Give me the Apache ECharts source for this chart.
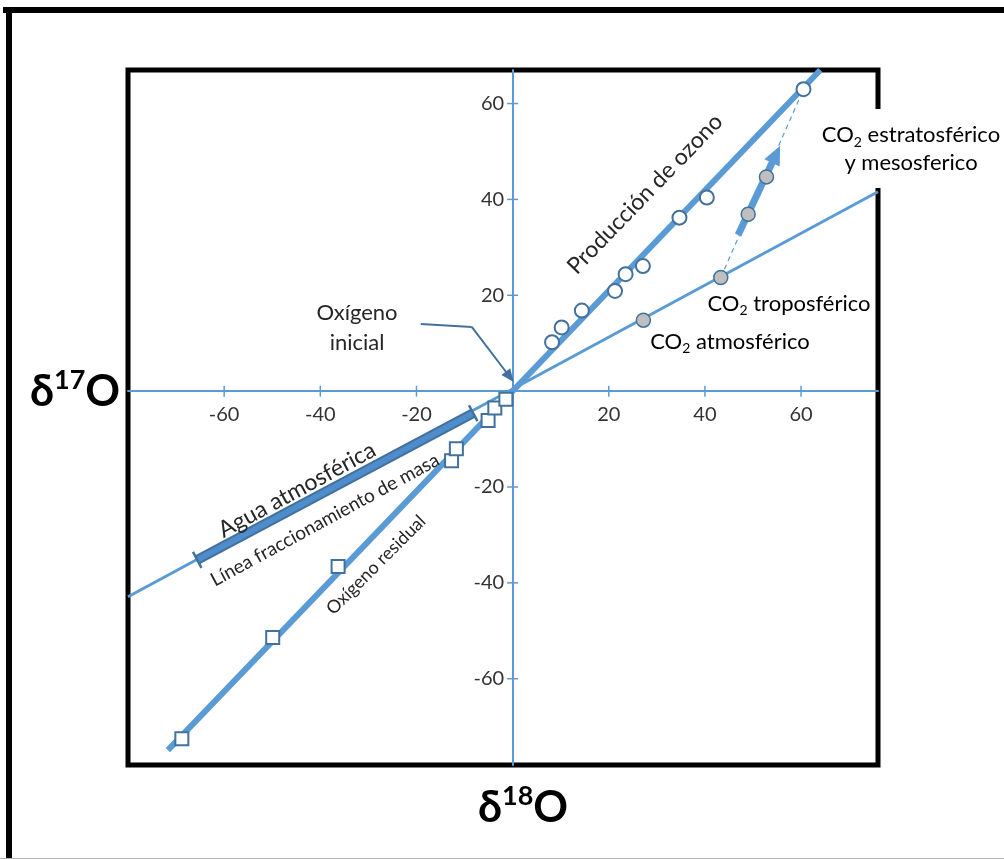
<!DOCTYPE html>
<html>
<head>
<meta charset="utf-8">
<script src="https://cdn.jsdelivr.net/npm/echarts@6/dist/echarts.min.js"></script>
<style>
  html, body { margin: 0; padding: 0; background: #fff; }
  #chart { width: 1004px; height: 859px; }
</style>
</head>
<body>
<div id="chart"></div>
<script>
// values (δ18O, δ17O)
const tickValues = [-60, -40, -20, 20, 40, 60]
const ozoneLine = [[0, 0], [64, 67]]
const ozonePoints = [[8.2, 10.2], [10.2, 13.3], [14.4, 16.8], [21.3, 20.9], [23.5, 24.4], [27.1, 26.1], [34.7, 36.2], [40.4, 40.4], [60.5, 63.0]]
const massLine = [[-80, -42.9], [76, 41.6]]
const waterBand = [[-65.6, -35.2], [-8.2, -4.6]]
const residualLine = [[-71.7, -74.9], [0, 0]]
const residualPoints = [[-68.8, -72.5], [-49.9, -51.4], [-36.3, -36.6], [-12.7, -14.5], [-11.7, -12.0], [-5.1, -6.1], [-3.7, -3.5], [-1.4, -1.7]]
const co2Points = [[27.2, 14.8], [43.3, 23.7], [49.0, 36.9], [52.8, 44.7]]
const co2Dashed = [[43.3, 23.7], [60.5, 63.0]]
const co2Arrow = [[46.9, 32.6], [54.8, 49.4]]
const initialArrow = [[-19.1, 14.0], [-8.5, 13.4], [-0.6, 3.0]]

const blue = "#5b9bd5"
const dark = "#41719c"
const txt = "#262626"
const font = "Lato, 'Open Sans', sans-serif"

const chart = echarts.init(document.getElementById("chart"))

const co2Rich = {
  n: { fontSize: 22, lineHeight: 26, fontFamily: font, color: txt },
  s: { fontSize: 14, lineHeight: 11, verticalAlign: "bottom", fontFamily: font, color: txt }
}
const deltaRich = {
  n: { fontSize: 43, lineHeight: 50, fontWeight: "bold", fontFamily: font, color: "#000" },
  p: { fontSize: 27, lineHeight: 34, verticalAlign: "top", fontWeight: "bold", fontFamily: font, color: "#000" }
}
const deg = (d) => (d * Math.PI) / 180

// ticks crossing the axes, with their labels, placed on the scales
const xTicks = tickValues.map((v) => [v, 0])
const yTicks = tickValues.map((v) => [0, v])
const tickLabel = { show: true, fontSize: 20, fontFamily: font, color: "#333" }

const options = {
  animation: false,
  backgroundColor: "#fff",
  grid: {
    left: 128,
    right: 126,
    top: 70,
    bottom: 94,
    show: true,
    borderColor: "#000",
    borderWidth: 5,
    backgroundColor: "#fff"
  },
  xAxis: {
    type: "value",
    min: -80,
    max: 76,
    splitLine: { show: false },
    axisLine: { onZero: true, lineStyle: { color: blue, width: 2 } },
    axisTick: { show: false },
    axisLabel: { show: false }
  },
  yAxis: {
    type: "value",
    min: -78,
    max: 67,
    splitLine: { show: false },
    axisLine: { onZero: true, lineStyle: { color: blue, width: 2 } },
    axisTick: { show: false },
    axisLabel: { show: false }
  },
  series: [
    {
      type: "scatter",
      data: xTicks,
      symbol: "rect",
      symbolSize: [1.5, 11],
      itemStyle: { color: blue, opacity: 1 },
      label: { ...tickLabel, position: "bottom", distance: 8, formatter: (p) => p.value[0] },
      silent: true,
      z: 2
    },
    {
      type: "scatter",
      data: yTicks,
      symbol: "rect",
      symbolSize: [11, 1.5],
      itemStyle: { color: blue, opacity: 1 },
      label: { ...tickLabel, position: "left", distance: 3, formatter: (p) => p.value[1] },
      silent: true,
      z: 2
    },
    {
      type: "line",
      data: massLine,
      symbol: "none",
      lineStyle: { color: blue, width: 3 },
      z: 3
    },
    {
      type: "line",
      data: waterBand,
      symbol: "none",
      lineStyle: { color: dark, width: 10, cap: "butt" },
      z: 4
    },
    {
      type: "line",
      data: waterBand,
      symbol: "none",
      lineStyle: { color: "#4f8ccb", width: 6, cap: "butt" },
      z: 4
    },
    {
      type: "scatter",
      data: waterBand,
      symbol: "rect",
      symbolSize: [2.5, 18],
      symbolRotate: 28,
      itemStyle: { color: dark, opacity: 1 },
      z: 5
    },
    {
      type: "line",
      data: residualLine,
      symbol: "none",
      lineStyle: { color: blue, width: 6 },
      z: 3
    },
    {
      type: "line",
      data: ozoneLine,
      symbol: "none",
      lineStyle: { color: blue, width: 6 },
      z: 3
    },
    {
      type: "line",
      data: co2Dashed,
      symbol: "none",
      lineStyle: { color: blue, width: 1.2, type: [5, 4] },
      z: 3
    },
    {
      type: "line",
      data: [],
      markLine: {
        silent: true,
        symbol: ["none", "triangle"],
        symbolSize: [17, 19],
        label: { show: false },
        lineStyle: { color: blue, width: 7, type: "solid" },
        data: [[{ coord: co2Arrow[0] }, { coord: co2Arrow[1] }]]
      },
      z: 4
    },
    {
      type: "line",
      data: initialArrow.slice(0, 2),
      symbol: "none",
      lineStyle: { color: dark, width: 2 },
      markLine: {
        silent: true,
        symbol: ["none", "triangle"],
        symbolSize: [11, 13],
        label: { show: false },
        lineStyle: { color: dark, width: 2, type: "solid" },
        data: [[{ coord: initialArrow[1] }, { coord: initialArrow[2] }]]
      },
      z: 4
    },
    {
      type: "scatter",
      data: ozonePoints,
      symbol: "circle",
      symbolSize: 14,
      itemStyle: { color: "#fff", borderColor: dark, borderWidth: 2, opacity: 1 },
      z: 6
    },
    {
      type: "scatter",
      data: co2Points,
      symbol: "circle",
      symbolSize: 14,
      itemStyle: { color: "#bfbfbf", borderColor: dark, borderWidth: 1.5, opacity: 1 },
      z: 6
    },
    {
      type: "scatter",
      data: residualPoints,
      symbol: "rect",
      symbolSize: 13,
      itemStyle: { color: "#fff", borderColor: dark, borderWidth: 2, opacity: 1 },
      z: 6
    }
  ],
  graphic: [
    // outer frame
    { type: "line", shape: { x1: 3, y1: 10, x2: 1004, y2: 10 }, style: { stroke: "#000", lineWidth: 6 }, z: 100 },
    { type: "line", shape: { x1: 9, y1: 7, x2: 9, y2: 858 }, style: { stroke: "#000", lineWidth: 6 }, z: 100 },
    { type: "line", shape: { x1: 0, y1: 858.5, x2: 1004, y2: 858.5 }, style: { stroke: "#b0b0b0", lineWidth: 1 }, z: 100 },
    // white text box breaking the right border
    { type: "rect", shape: { x: 870, y: 109, width: 14, height: 79 }, style: { fill: "#fff" }, z: 100 },
    {
      type: "text", x: 75, y: 392, z: 101,
      style: { text: "{n|δ}{p|17}{n|O}", rich: deltaRich, align: "center", verticalAlign: "middle" }
    },
    {
      type: "text", x: 523, y: 808, z: 101,
      style: { text: "{n|δ}{p|18}{n|O}", rich: deltaRich, align: "center", verticalAlign: "middle" }
    },
    {
      type: "text", x: 645, y: 194, rotation: deg(46), z: 101,
      style: { text: "Producción de ozono", font: "23px " + font, fill: txt, align: "center", verticalAlign: "middle" }
    },
    {
      type: "text", x: 911, y: 149, z: 101,
      style: {
        text: "{n|CO}{s|2}{n| estratosférico}\n{n|y mesosferico}",
        rich: { n: { ...co2Rich.n, lineHeight: 28 }, s: co2Rich.s },
        align: "center", verticalAlign: "middle"
      }
    },
    {
      type: "text", x: 789, y: 304, z: 101,
      style: { text: "{n|CO}{s|2}{n| troposférico}", rich: co2Rich, align: "center", verticalAlign: "middle" }
    },
    {
      type: "text", x: 730, y: 342, z: 101,
      style: { text: "{n|CO}{s|2}{n| atmosférico}", rich: co2Rich, align: "center", verticalAlign: "middle" }
    },
    {
      type: "text", x: 357, y: 328, z: 101,
      style: { text: "Oxígeno\ninicial", font: "22px " + font, lineHeight: 30, fill: txt, align: "center", verticalAlign: "middle" }
    },
    {
      type: "text", x: 297, y: 490, rotation: deg(28.5), z: 101,
      style: { text: "Agua atmosférica", font: "23px " + font, fill: txt, align: "center", verticalAlign: "middle" }
    },
    {
      type: "text", x: 325, y: 520, rotation: deg(28.5), z: 101,
      style: { text: "Línea fraccionamiento de masa", font: "19px " + font, fill: txt, align: "center", verticalAlign: "middle" }
    },
    {
      type: "text", x: 376, y: 565, rotation: deg(45), z: 101,
      style: { text: "Oxígeno residual", font: "18px " + font, fill: txt, align: "center", verticalAlign: "middle" }
    }
  ]
}
chart.setOption(options)
</script>
</body>
</html>
